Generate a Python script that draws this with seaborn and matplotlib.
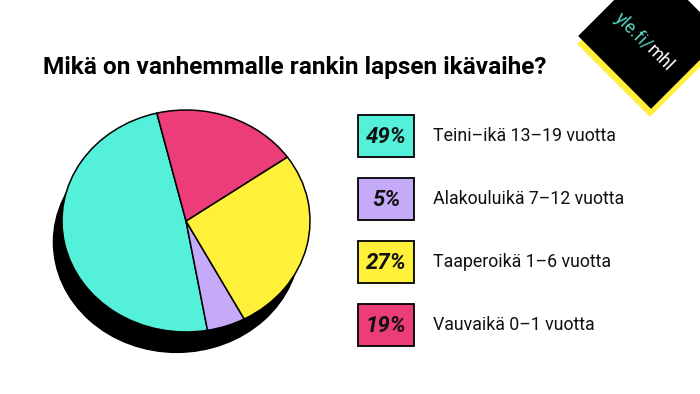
import numpy as np
import pandas as pd
import seaborn as sns
import matplotlib.pyplot as plt
from matplotlib.patches import Rectangle, Polygon, Ellipse

# ------------------- DATA -------------------

labels = ["Teini–ikä 13–19 vuotta", "Alakouluikä 7–12 vuotta",
          "Taaperoikä 1–6 vuotta", "Vauvaikä 0–1 vuotta"]
shares = [49, 5, 27, 19]
pct_text = ["49%", "5%", "27%", "19%"]
title = "Mikä on vanhemmalle rankin lapsen ikävaihe?"

colors = sns.color_palette(["#54F0DA", "#C4AAF8", "#FFF03A", "#EC3C7A"])

df = pd.DataFrame({"label": labels, "share": shares, "pct": pct_text})

# ------------------- FIGURE -------------------

sns.set_theme(style="white")
plt.rcParams["font.family"] = ["Roboto", "DejaVu Sans"]

W, H = 700, 394
fig = plt.figure(figsize=(7, 3.94), dpi=100)
fig.patch.set_facecolor("white")

# pie (squashed to an ellipse) with a black offset shadow
ax = fig.add_axes([62 / W, (H - 332) / H, 248 / W, 222 / H])
ax.add_patch(Ellipse((-0.075, -0.19), 2, 2, facecolor="black",
                     edgecolor="none", clip_on=False))
ax.pie(df["share"], colors=colors, startangle=103.6, counterclock=True,
       radius=1, wedgeprops=dict(edgecolor="black", linewidth=1.1))
ax.set_aspect("auto")
ax.set_xlim(-1, 1)
ax.set_ylim(-1, 1)
ax.axis("off")

# overlay in pixel coordinates for title, legend and logo
ov = fig.add_axes([0, 0, 1, 1], zorder=-1)
ov.set_xlim(0, W)
ov.set_ylim(H, 0)
ov.axis("off")

ov.text(43, 74, title, fontsize=17.6, fontweight="bold", color="black",
        ha="left", va="baseline")

# legend boxes
for i, row in df.iterrows():
    yc = 136 + i * 63
    ov.add_patch(Rectangle((358, yc - 21), 56, 42, facecolor=colors[i],
                           edgecolor="black", linewidth=1.3))
    ov.text(386, yc + 1, row["pct"], fontsize=16, fontweight="bold",
            fontstyle="italic", ha="center", va="center", color="#111111")
    ov.text(433, yc, row["label"], fontsize=12.8, ha="left", va="center",
            color="#111111")

# yle.fi/mhl badge
def square(cx, cy, s, ang):
    a = np.deg2rad(ang)
    pts = []
    for dx, dy in [(-1, -1), (1, -1), (1, 1), (-1, 1)]:
        x = dx * s / 2
        y = dy * s / 2
        pts.append((cx + x * np.cos(a) - y * np.sin(a),
                    cy + x * np.sin(a) + y * np.cos(a)))
    return pts

ov.add_patch(Polygon(square(650, 44, 103, 45), closed=True,
                     facecolor="#FFEF3A", edgecolor="none"))
ov.add_patch(Polygon(square(651, 36, 103, 45), closed=True,
                     facecolor="black", edgecolor="none"))

x0, y0 = 614, 19
ov.text(x0, y0, "yle.fi/", fontsize=13, color="#55D9BE",
        rotation=-45, rotation_mode="anchor", ha="left", va="baseline",
        zorder=5)
probe = fig.text(0, 0, "yle.fi/", fontsize=13)
fig.canvas.draw()
w = probe.get_window_extent().width
probe.remove()
step = w / np.sqrt(2)
ov.text(x0 + step, y0 + step, "mhl", fontsize=13, color="white",
        rotation=-45, rotation_mode="anchor", ha="left", va="baseline",
        zorder=5)

fig.savefig("out.png", dpi=100, facecolor="white")
